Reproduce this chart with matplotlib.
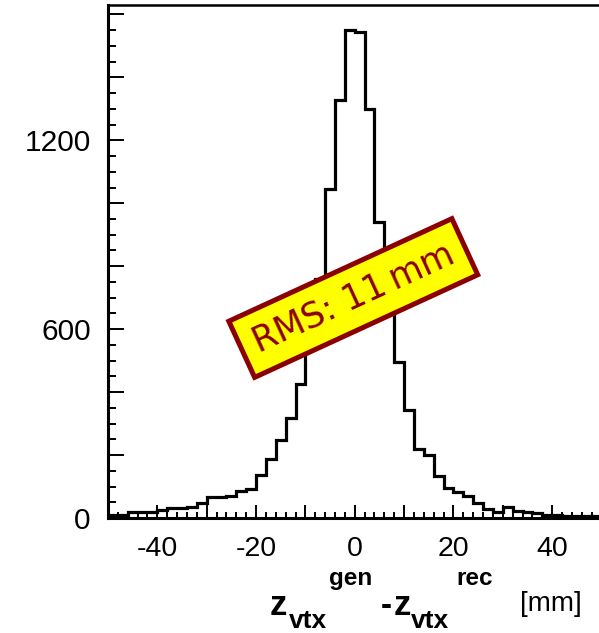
import numpy as np
import matplotlib
matplotlib.use("Agg")
import matplotlib.pyplot as plt
from matplotlib.ticker import MultipleLocator, FuncFormatter

plt.rcParams['font.family'] = ['Liberation Sans', 'DejaVu Sans']
plt.rcParams['axes.unicode_minus'] = False

# histogram of z_vtx(gen) - z_vtx(rec), 2 mm bins from -50 to 50
bin_edges = np.arange(-50, 51, 2)
counts = [8, 8, 20, 18, 20, 25, 33, 33, 35, 47,
          68, 68, 70, 86, 91, 136, 187, 248, 319, 427,
          580, 760, 1044, 1329, 1549, 1544, 1301, 940, 700, 496,
          343, 220, 200, 134, 95, 83, 71, 47, 30, 20,
          36, 23, 20, 15, 10, 8, 7, 6, 5, 5]

x_labels = [-40, -20, 0, 20, 40]
y_labels = [0, 600, 1200]
rms_text = "RMS: 11\u2009mm"

W, H = 599, 633
fig = plt.figure(figsize=(W / 100, H / 100), dpi=100)
ax = fig.add_axes([108 / W, 115 / H, (601.5 - 108) / W, (628 - 115) / H])

ax.stairs(counts, bin_edges, color='black', linewidth=2.3, baseline=0)

ax.set_xlim(-50, 50)
ax.set_ylim(0, 1630)

# ticks
ax.xaxis.set_major_locator(MultipleLocator(10))
ax.xaxis.set_minor_locator(MultipleLocator(2))
ax.yaxis.set_major_locator(MultipleLocator(200))
ax.yaxis.set_minor_locator(MultipleLocator(50))
ax.xaxis.set_major_formatter(FuncFormatter(lambda v, p: f"{v:.0f}" if round(v) in x_labels else ""))
ax.yaxis.set_major_formatter(FuncFormatter(lambda v, p: f"{v:.0f}" if round(v) in y_labels else ""))

ax.tick_params(axis='x', which='major', direction='in', length=9.4, width=1.4, labelsize=20.5, pad=13)
ax.tick_params(axis='x', which='minor', direction='in', length=4.3, width=1.4)
ax.tick_params(axis='y', which='major', direction='in', length=11.5, width=1.4, labelsize=21.5, pad=12.5)
ax.tick_params(axis='y', which='minor', direction='in', length=5.8, width=1.4)

for side in ['left', 'bottom']:
    ax.spines[side].set_linewidth(2.2)
ax.spines['top'].set_linewidth(1.8)
ax.spines['right'].set_linewidth(1.8)

# RMS box
ax.text(-0.3, 699, rms_text, rotation=24.7, rotation_mode='anchor',
        ha='center', va='center', fontsize=25, color='#8b0000',
        family=['DejaVu Sans'],
        bbox=dict(boxstyle='square,pad=0.4', facecolor='#ffff00',
                  edgecolor='#8b0000', linewidth=3.6))


# axis title built from pieces, positions in figure pixels
def ftext(x, y, s, size, weight='bold'):
    fig.text(x / W, 1 - y / H, s, fontsize=size, fontweight=weight,
             ha='left', va='baseline')


ftext(270, 615, 'z', 25)
ftext(288.5, 627.5, 'vtx', 19)
ftext(329.5, 585, 'gen', 17.5)
ftext(380.5, 615, '-', 24)
ftext(394, 615, 'z', 25)
ftext(411, 627.5, 'vtx', 19)
ftext(456, 585, 'rec', 17.5)
ftext(519.5, 611, '[mm]', 20, weight='normal')

fig.savefig('out.png', dpi=100)
